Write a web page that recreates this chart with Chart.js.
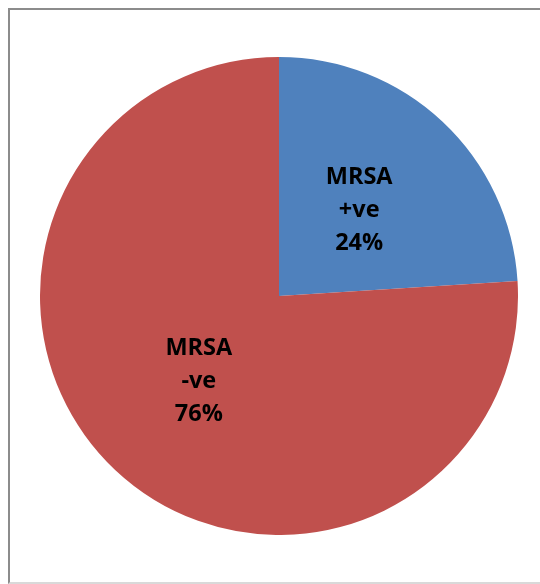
<!DOCTYPE html>
<html>
<head>
<meta charset="utf-8">
<script src="https://cdn.jsdelivr.net/npm/chart.js@4/dist/chart.umd.min.js"></script>
<style>
  html, body { margin: 0; padding: 0; background: #fff; }
  #frame {
    position: absolute; left: 8px; top: 8px; width: 560px; height: 572px;
    border-left: 2px solid #8c8c8c; border-top: 2px solid #8c8c8c;
    border-bottom: 2px solid #d9d9d9;
  }
  #wrap { position: absolute; left: 40px; top: 57px; width: 478px; height: 478px; }
</style>
</head>
<body>
<div id="frame"></div>
<div id="wrap"><canvas id="pie"></canvas></div>
<script>
const categories = ['MRSA\n+ve', 'MRSA\n-ve'];
const percentValues = [24, 76];
const sliceColors = ['#4F81BD', '#C0504D'];

// draws the in-slice labels (category + percent) at about half the radius
const sliceLabels = {
  id: 'sliceLabels',
  afterDatasetsDraw(chart) {
    const ctx = chart.ctx;
    const meta = chart.getDatasetMeta(0);
    ctx.save();
    ctx.font = 'bold 23.5px "Open Sans", sans-serif';
    ctx.fillStyle = '#000';
    ctx.textAlign = 'center';
    ctx.textBaseline = 'middle';
    meta.data.forEach((arc, i) => {
      const p = arc.getProps(['x', 'y', 'startAngle', 'endAngle', 'outerRadius'], true);
      const mid = (p.startAngle + p.endAngle) / 2;
      const r = p.outerRadius * 0.49;
      const cx = p.x + Math.cos(mid) * r;
      const cy = p.y + Math.sin(mid) * r;
      const lines = categories[i].split('\n').concat(percentValues[i] + '%');
      const lh = 33;
      lines.forEach((txt, j) => {
        ctx.fillText(txt, cx, cy + (j - (lines.length - 1) / 2) * lh);
      });
    });
    ctx.restore();
  }
};

new Chart(document.getElementById('pie'), {
  type: 'pie',
  data: {
    labels: categories,
    datasets: [{
      data: percentValues,
      backgroundColor: sliceColors,
      borderWidth: 0
    }]
  },
  options: {
    responsive: true,
    maintainAspectRatio: false,
    animation: false,
    layout: { padding: 0 },
    plugins: {
      legend: { display: false },
      tooltip: { enabled: false }
    }
  },
  plugins: [sliceLabels]
});
</script>
</body>
</html>
